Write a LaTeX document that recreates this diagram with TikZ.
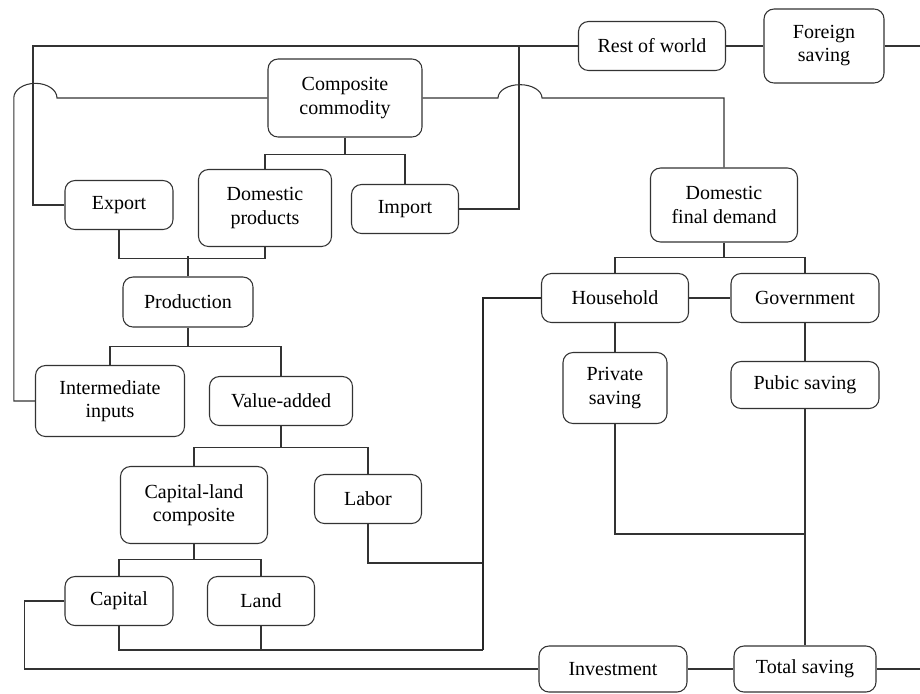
\documentclass[tikz,border=0pt]{standalone}
\usepackage{fontspec}
\setmainfont{Liberation Serif}
\newfontfamily\tnr{Liberation Serif}
\usetikzlibrary{calc}
\begin{document}
\begin{tikzpicture}[x=0.75pt,y=-0.75pt,
  box/.style={draw=black!80, line width=0.8pt, rounded corners=7.5pt, align=center, inner sep=0pt,
    font=\tnr\fontsize{15}{17.3}\selectfont},
  conn/.style={draw=black!80, line width=0.8pt},
  thickconn/.style={draw=black!85, line width=1.6pt}]
\useasboundingbox (0,0) rectangle (920,693);

\node[box, minimum width=154*0.75pt, minimum height=78*0.75pt] (comp) at (345,98) {Composite\\commodity};
\node[box, minimum width=147*0.75pt, minimum height=49*0.75pt] (row) at (652,46) {Rest of world};
\node[box, minimum width=120*0.75pt, minimum height=74*0.75pt] (fs) at (824,46) {Foreign\\saving};
\node[box, minimum width=108*0.75pt, minimum height=49*0.75pt] (exp) at (119,205) {Export};
\node[box, minimum width=133*0.75pt, minimum height=77*0.75pt] (dom) at (265,208) {Domestic\\products};
\node[box, minimum width=107*0.75pt, minimum height=49*0.75pt] (imp) at (405,209) {Import};
\node[box, minimum width=147*0.75pt, minimum height=74*0.75pt] (dfd) at (724,205) {Domestic\\final demand};
\node[box, minimum width=130*0.75pt, minimum height=50*0.75pt] (prod) at (188,302) {Production};
\node[box, minimum width=147*0.75pt, minimum height=49*0.75pt] (hh) at (615,298) {Household};
\node[box, minimum width=148*0.75pt, minimum height=49*0.75pt] (gov) at (805,298) {Government};
\node[box, minimum width=149*0.75pt, minimum height=71*0.75pt] (ii) at (110,401) {Intermediate\\inputs};
\node[box, minimum width=143*0.75pt, minimum height=49*0.75pt] (va) at (281,401) {Value-added};
\node[box, minimum width=104*0.75pt, minimum height=71*0.75pt] (ps) at (615,388) {Private\\saving};
\node[box, minimum width=148*0.75pt, minimum height=47*0.75pt] (pub) at (805,385) {Pubic saving};
\node[box, minimum width=147*0.75pt, minimum height=77*0.75pt] (clc) at (194,505) {Capital-land\\composite};
\node[box, minimum width=107*0.75pt, minimum height=49*0.75pt] (lab) at (368,499) {Labor};
\node[box, minimum width=108*0.75pt, minimum height=49*0.75pt] (cap) at (119,601) {Capital};
\node[box, minimum width=107*0.75pt, minimum height=49*0.75pt] (land) at (261,601) {Land};
\node[box, minimum width=148*0.75pt, minimum height=46*0.75pt] (inv) at (613,669) {Investment};
\node[box, minimum width=142*0.75pt, minimum height=46*0.75pt] (ts) at (805,669) {Total saving};

\coordinate (tl) at (33,46);
\coordinate (jimp) at (519,46);
\coordinate (jb) at (483,650);
\coordinate (jl) at (483,563);
\coordinate (jps) at (805,534);
\coordinate (rend1) at (920,46);
\coordinate (rend2) at (920,669);
\coordinate (hopL) at (57,98);
\coordinate (hopR) at (498,98);

% top loop
\draw[conn] (row.west) -- (tl) |- (exp.west);
\draw[conn] (imp.east) -| (jimp);
\draw[conn] (row) -- (fs);
\draw[conn] (fs.east) -- (rend1);

% composite commodity hops
\draw[conn] (comp.west) -- (hopL) arc[start angle=0,end angle=180,x radius=16.2pt,y radius=11pt] |- (ii.west);
\draw[conn] (comp.east) -- (hopR) arc[start angle=180,end angle=0,x radius=16.5pt,y radius=10pt] -| (dfd.north);

% composite children
\draw[conn] (comp.south) -- ++(0,17) -| (dom.north);
\draw[conn] (comp.south) ++(0,17) -| (imp.north);

% export/domestic to production
\draw[conn] (exp.south) -- ++(0,28) -| (dom.south);
\draw[conn] (prod.north) -- ++(0,-20);

% production children
\draw[conn] (prod.south) -- ++(0,19) -| (ii.north);
\draw[conn] (prod.south) ++(0,19) -| (va.north);

% value-added children
\draw[conn] (va.south) -- ++(0,21.5) -| (clc.north);
\draw[conn] (va.south) ++(0,21.5) -| (lab.north);

% capital-land composite children
\draw[conn] (clc.south) -- ++(0,15.5) -| (cap.north);
\draw[conn] (clc.south) ++(0,15.5) -| (land.north);

% factor payments to household
\draw[conn] (cap.south) |- (jb);
\draw[conn] (land.south) -- (land.south |- jb);
\draw[conn] (lab.south) |- (jl);
\draw[thickconn] (jb) |- (hh.west);

% capital to investment
\draw[conn] (cap.west) -- ++(-40,0) |- (inv.west);
\draw[conn] (inv) -- (ts);
\draw[conn] (ts.east) -- (rend2);

% domestic final demand
\draw[conn] (dfd.south) -- ++(0,15) -| (hh.north);
\draw[conn] (dfd.south) ++(0,15) -| (gov.north);
\draw[conn] (hh) -- (gov);
\draw[conn] (hh.south) -- (ps.north);
\draw[conn] (gov.south) -- (pub.north);
\draw[conn] (ps.south) |- (jps);
\draw[conn] (pub.south) -- (ts.north);
\end{tikzpicture}
\end{document}
